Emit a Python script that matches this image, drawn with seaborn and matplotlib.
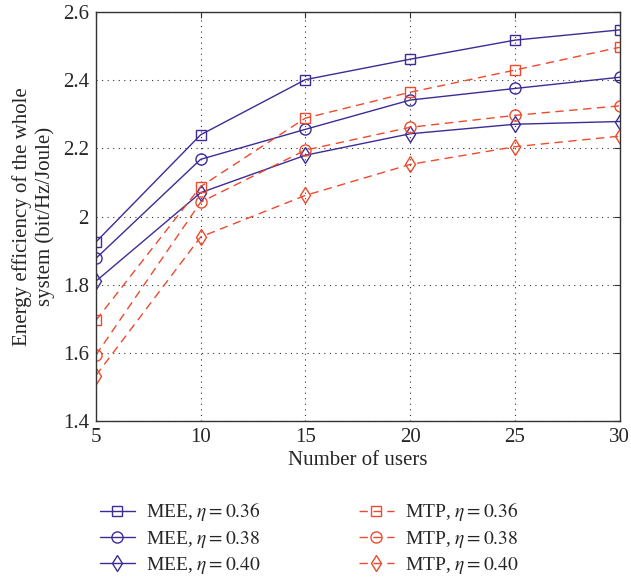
import matplotlib
matplotlib.use("Agg")
import matplotlib.pyplot as plt
import seaborn as sns
import pandas as pd

users = [5, 10, 15, 20, 25, 30]
mee_036 = [1.925, 2.240, 2.402, 2.462, 2.518, 2.548]
mee_038 = [1.877, 2.168, 2.256, 2.342, 2.376, 2.409]
mee_040 = [1.810, 2.070, 2.180, 2.243, 2.271, 2.279]
mtp_036 = [1.695, 2.088, 2.289, 2.365, 2.430, 2.497]
mtp_038 = [1.593, 2.042, 2.195, 2.262, 2.297, 2.325]
mtp_040 = [1.533, 1.940, 2.062, 2.153, 2.205, 2.236]

series = [
    ("MEE, $\\eta = 0.36$", mee_036, "s", "#3b2c96", "-"),
    ("MEE, $\\eta = 0.38$", mee_038, "o", "#3b2c96", "-"),
    ("MEE, $\\eta = 0.40$", mee_040, "d", "#3b2c96", "-"),
    ("MTP, $\\eta = 0.36$", mtp_036, "s", "#ee4a2c", (0, (6, 4))),
    ("MTP, $\\eta = 0.38$", mtp_038, "o", "#ee4a2c", (0, (6, 4))),
    ("MTP, $\\eta = 0.40$", mtp_040, "d", "#ee4a2c", (0, (6, 4))),
]

sns.set_style("white")
plt.rcParams["font.family"] = ["Liberation Serif", "DejaVu Serif"]
plt.rcParams["mathtext.fontset"] = "stix"

fig = plt.figure(figsize=(6.31, 5.82), dpi=100)
ax = fig.add_axes([0.152, 0.277, 0.830, 0.702])

for label, vals, mk, col, ls in series:
    df = pd.DataFrame({"x": users, "y": vals})
    sns.lineplot(data=df, x="x", y="y", ax=ax, color=col, linestyle=ls,
                 marker=mk, markersize=8 if mk != "s" else 7,
                 markerfacecolor="none", markeredgecolor=col,
                 markeredgewidth=1.0, linewidth=1.0, label=label)

ax.set_xlim(5, 30)
ax.set_ylim(1.4, 2.6)
ax.set_xticks(users)
ax.set_yticks([1.4, 1.6, 1.8, 2.0, 2.2, 2.4, 2.6])
ax.set_yticklabels(["1.4", "1.6", "1.8", "2", "2.2", "2.4", "2.6"])
ax.grid(True, linestyle=(0, (1, 4)), color="#333333", linewidth=0.8)
ax.tick_params(direction="in", length=4, labelsize=15, top=True, right=True,
               color="#333333", pad=5)
for s in ax.spines.values():
    s.set_color("#333333")
    s.set_linewidth(1.0)
ax.set_xlabel("Number of users", fontsize=15, labelpad=3)
ax.set_ylabel("Energy efficiency of the whole\nsystem (bit/Hz/Joule)", fontsize=15,
              labelpad=6)

handles, labels = ax.get_legend_handles_labels()
ax.legend(handles, labels, loc="upper left", bbox_to_anchor=(-0.026, -0.152),
          ncol=2, frameon=False, fontsize=14, handlelength=1.8,
          columnspacing=5.0, labelspacing=0.28, handletextpad=0.6)

fig.savefig("out.png", dpi=100)
